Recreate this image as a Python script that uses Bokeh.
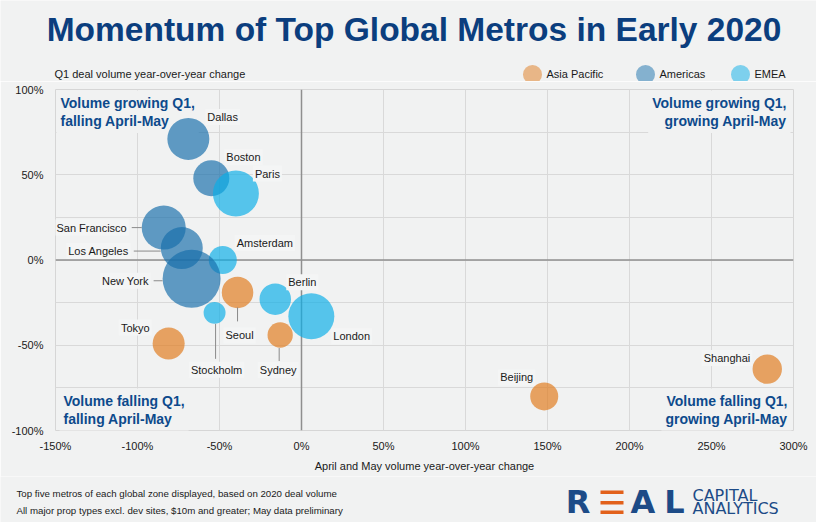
import math
from bokeh.plotting import figure
from bokeh.models import (Range1d, FixedTicker, Span, Label, ColumnDataSource,
                          CustomJSTickFormatter)
from bokeh.core.properties import value
from bokeh.embed import file_html
from bokeh.resources import INLINE

# ---------------- data ----------------
cities = ["Dallas", "Boston", "Paris", "San Francisco", "Los Angeles", "Amsterdam",
          "New York", "Seoul", "Stockholm", "Berlin", "London", "Sydney", "Tokyo",
          "Beijing", "Shanghai"]
zones = ["Americas", "Americas", "EMEA", "Americas", "Americas", "EMEA",
         "Americas", "Asia Pacific", "EMEA", "EMEA", "EMEA", "Asia Pacific", "Asia Pacific",
         "Asia Pacific", "Asia Pacific"]
apr_may_change = [-69, -55, -40, -84, -73, -48, -67, -39, -53, -16, 6, -13, -81, 148, 284]
q1_change = [71, 48, 39, 19, 7, 0, -11, -19, -31, -23, -33, -44, -49, -80, -64]
deal_volume = [11.0, 8.1, 13.2, 12.1, 11.0, 4.9, 21.0, 6.2, 3.0, 6.2, 13.2, 4.0, 6.4, 4.9, 5.4]

zone_names = ["Asia Pacific", "Americas", "EMEA"]
x_ticks = [-150, -100, -50, 0, 50, 100, 150, 200, 250, 300]
y_ticks = [-100, -50, 0, 50, 100]
y_grid = [-100, -75, -50, -25, 0, 25, 50, 75, 100]

title_text = "Momentum of Top Global Metros in Early 2020"
y_title = "Q1 deal volume year-over-year change"
x_title = "April and May volume year-over-year change"
quadrants = ["Volume growing Q1,\nfalling April-May", "Volume growing Q1,\ngrowing April-May",
             "Volume falling Q1,\nfalling April-May", "Volume falling Q1,\ngrowing April-May"]
notes = ["Top five metros of each global zone displayed, based on 2020 deal volume",
         "All major prop types excl. dev sites, $10m and greater; May data preliminary"]

# ---------------- styles ----------------
BG = "#f1f2f2"
NAVY = "#0b3e7e"
QNAVY = "#0d4a8c"
TXT = "#1a1a1a"
SANS = "Liberation Sans"
zone_colors = {"Asia Pacific": "#e07a1c", "Americas": "#176fab", "EMEA": "#0aaee8"}
MAX_D = 58

W = 816
HEAD_H, MAIN_H, FOOT_H = 81, 395, 46
BL, BR, BT, BB = 55, 23, 8, 46
FW, FH = W - BL - BR, MAIN_H - BT - BB
FX, FY = BL, HEAD_H + MAIN_H - BB  # page coords of the frame's bottom-left

label_style = {
    "Dallas": (17, -22, "left"), "Boston": (13, -21, "left"), "Paris": (17, -20, "left"),
    "San Francisco": (-35, 0, "right"), "Los Angeles": (-51, 3, "right"),
    "Amsterdam": (12, -17, "left"), "New York": (-41, 2, "right"), "Berlin": (11, -17, "left"),
    "Seoul": (2, 43, "center"), "Stockholm": (2, 57, "center"), "Sydney": (-2, 35, "center"),
    "London": (20, 20, "left"), "Tokyo": (-17, -16, "right"), "Beijing": (-9, -19, "right"),
    "Shanghai": (-15, -11, "right"),
}
leaders = {
    "San Francisco": (-32, 0, -22, 0), "Los Angeles": (-48, 3, -21, 3),
    "New York": (-38, 2, -29, 2), "Seoul": (0, 15, 0, 29), "Stockholm": (1, 11, 1, 46),
    "Sydney": (-1, 13, -1, 26),
}


def deco_fig(h):
    f = figure(width=W, height=h, x_range=Range1d(0, W), y_range=Range1d(h, 0),
               x_axis_type=None, y_axis_type=None, output_backend="svg",
               toolbar_location=None, min_border=0, background_fill_color=BG,
               border_fill_color=BG, outline_line_color=None)
    return f


def txt(f, x, y, text, size, font=SANS, style="normal", color=TXT, align="left",
        baseline="middle"):
    f.text(x=[x], y=[y], text=[text], text_font=value(font), text_font_size=size,
           text_font_style=style, text_color=color, text_align=align,
           text_baseline=baseline)


# ---------------- header ----------------
head = deco_fig(HEAD_H)
txt(head, 413.5, 28.5, title_text, "33.5px", style="bold", color=NAVY, align="center")
txt(head, 54, 73, y_title, "11px")
legend_cx = [532, 645, 740]
head.scatter(x=legend_cx, y=[74] * 3, size=19, fill_color=[zone_colors[z] for z in zone_names],
             fill_alpha=0.5, line_color=None)
for zn, cx in zip(zone_names, legend_cx):
    txt(head, cx + 14, 73, zn, "11px")

# ---------------- main plot ----------------
p = figure(width=W, height=MAIN_H, x_range=Range1d(-150, 300), y_range=Range1d(-100, 100),
           output_backend="svg", toolbar_location=None,
           min_border_left=BL, min_border_right=BR, min_border_top=BT, min_border_bottom=BB,
           background_fill_color=BG, border_fill_color=BG, outline_line_color="#d6d6d6")

p.xaxis.ticker = FixedTicker(ticks=x_ticks)
p.yaxis.ticker = FixedTicker(ticks=y_ticks)
fmt = CustomJSTickFormatter(code="return tick + '%';")
for ax in (p.xaxis[0], p.yaxis[0]):
    ax.formatter = fmt
    ax.axis_line_color = None
    ax.major_tick_line_color = None
    ax.minor_tick_line_color = None
    ax.major_tick_out = 0
    ax.major_tick_in = 0
    ax.minor_tick_out = 0
    ax.major_label_text_font = SANS
    ax.major_label_text_font_size = "11px"
    ax.major_label_text_color = TXT
p.xaxis.major_label_standoff = 9
p.yaxis.major_label_standoff = 12
p.xaxis.axis_label = x_title
p.xaxis.axis_label_text_font = SANS
p.xaxis.axis_label_text_font_size = "11px"
p.xaxis.axis_label_text_font_style = "normal"
p.xaxis.axis_label_text_color = TXT
p.xaxis.axis_label_standoff = 5

p.xgrid.ticker = FixedTicker(ticks=x_ticks)
p.ygrid.ticker = FixedTicker(ticks=y_grid)
p.grid.grid_line_color = "#d9d9d9"
p.grid.grid_line_width = 1

p.add_layout(Span(location=0, dimension="height", line_color="#8f8f8f", line_width=1.5,
                  level="underlay"))
p.add_layout(Span(location=0, dimension="width", line_color="#8f8f8f", line_width=1.5,
                  level="underlay"))

qpos = [(56, 90, "left"), (790, 90, "right"), (59, 388, "left"), (791, 388, "right")]
for q, (X, Y, al) in zip(quadrants, qpos):
    p.add_layout(Label(x=X - FX, y=FY - Y, x_units="screen", y_units="screen", text=q,
                       text_font=SANS, text_font_size="14px", text_font_style="bold",
                       text_color=QNAVY, text_align=al, text_baseline="top",
                       text_line_height=1.15, background_fill_color=BG, padding=4,
                       level="underlay"))

vmax = max(deal_volume)
src = ColumnDataSource(dict(
    x=apr_may_change, y=q1_change, name=cities,
    size=[MAX_D * math.sqrt(v / vmax) for v in deal_volume],
    color=[zone_colors[z] for z in zones]))
p.scatter("x", "y", size="size", source=src, fill_color="color", fill_alpha=0.68,
          line_color=None)

kx = (p.x_range.end - p.x_range.start) / FW
ky = (p.y_range.end - p.y_range.start) / FH
seg = dict(x0=[], y0=[], x1=[], y1=[])
for c, x, y in zip(cities, apr_may_change, q1_change):
    if c in leaders:
        a, b, cc, d = leaders[c]
        seg["x0"].append(x + a * kx); seg["y0"].append(y - b * ky)
        seg["x1"].append(x + cc * kx); seg["y1"].append(y - d * ky)
p.segment("x0", "y0", "x1", "y1", source=ColumnDataSource(seg), line_color="#8a8a8a",
          line_width=1)

lsrc = ColumnDataSource(dict(
    x=apr_may_change, y=q1_change, name=cities,
    dx=[label_style[c][0] for c in cities], dy=[label_style[c][1] for c in cities],
    align=[label_style[c][2] for c in cities]))
p.text(x="x", y="y", text="name", x_offset="dx", y_offset="dy", text_align="align",
       text_baseline="middle", text_font=value(SANS), text_font_size="11px",
       text_color=TXT, background_fill_color="#f4f5f5", padding=2, source=lsrc)

# ---------------- footer ----------------
foot = deco_fig(FOOT_H)
F0 = HEAD_H + MAIN_H
txt(foot, 16, 493 - F0, notes[0], "9.7px")
txt(foot, 16, 510 - F0, notes[1], "9.7px")
LOGO_BLUE = "#1c4b87"
LOGO_ORANGE = "#e2611b"
for ch, cx in [("R", 577.5), ("A", 642.5), ("L", 674)]:
    txt(foot, cx, 501.5 - F0, ch, "32px", font="DejaVu Sans", style="bold", color=LOGO_BLUE,
        align="center")
foot.quad(left=[600] * 3, right=[623] * 3, top=[490 - F0, 500.5 - F0, 510 - F0],
          bottom=[493.5 - F0, 504 - F0, 513.5 - F0], fill_color=LOGO_ORANGE, line_color=None)
txt(foot, 692, 495 - F0, "CAPITAL", "16px", font="DejaVu Sans", color=LOGO_BLUE)
txt(foot, 692, 507.5 - F0, "ANALYTICS", "16px", font="DejaVu Sans", color=LOGO_BLUE)

open("out.html", "w").write(file_html([head, p, foot], INLINE, title=title_text))
